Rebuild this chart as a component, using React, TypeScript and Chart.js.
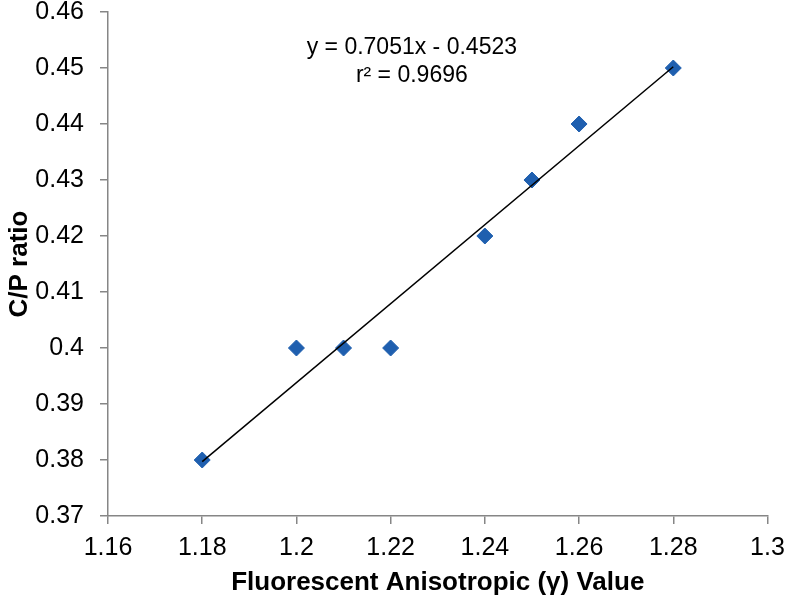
import React, { useEffect, useRef } from "react";
import { Chart, registerables } from "chart.js";

Chart.register(...registerables);

// Data
const anisotropyValues = [1.18, 1.2, 1.21, 1.22, 1.24, 1.25, 1.26, 1.28];
const cpRatios = [0.38, 0.4, 0.4, 0.4, 0.42, 0.43, 0.44, 0.45];

// Linear trend line (from the displayed equation)
const slope = 0.7051;
const intercept = -0.4523;
const trendXRange = [1.18, 1.28];
const equationLines = ["y = 0.7051x - 0.4523", "r² = 0.9696"];
const equationAnchor = { x: 1.2245, y1: 0.4537, y2: 0.4486 };

// Axis settings
const xTicks = [1.16, 1.18, 1.2, 1.22, 1.24, 1.26, 1.28, 1.3];
const yTicks = [0.37, 0.38, 0.39, 0.4, 0.41, 0.42, 0.43, 0.44, 0.45, 0.46];
const xTitle = "Fluorescent Anisotropic (γ) Value";
const yTitle = "C/P ratio";

const FONT = "'Liberation Sans', Arial, sans-serif";
const AXIS_GREY = "#868686";
const MARKER_BLUE = "#1F5FAF";

export default function App() {
  const canvasRef = useRef<HTMLCanvasElement | null>(null);

  useEffect(() => {
    const canvas = canvasRef.current;
    if (!canvas) return;

    const trendData = trendXRange.map((x) => ({ x, y: slope * x + intercept }));
    const pointData = anisotropyValues.map((x, i) => ({ x, y: cpRatios[i] }));

    const equationPlugin = {
      id: "equationText",
      afterDatasetsDraw(chart: any) {
        const { ctx, scales } = chart;
        const xs = scales.x;
        const ys = scales.y;
        ctx.save();
        ctx.font = `23px ${FONT}`;
        ctx.fillStyle = "#000";
        ctx.textAlign = "center";
        ctx.textBaseline = "middle";
        const px = xs.getPixelForValue(equationAnchor.x);
        ctx.fillText(equationLines[0], px, ys.getPixelForValue(equationAnchor.y1));
        ctx.fillText(equationLines[1], px, ys.getPixelForValue(equationAnchor.y2));
        ctx.restore();
      },
    };

    const chart = new Chart(canvas, {
      type: "scatter",
      data: {
        datasets: [
          {
            type: "line",
            label: "Trend",
            data: trendData,
            borderColor: "#000",
            borderWidth: 1.5,
            pointRadius: 0,
            fill: false,
            tension: 0,
          } as any,
          {
            label: "C/P ratio",
            data: pointData,
            pointStyle: "rectRot",
            pointRadius: 8,
            pointBackgroundColor: MARKER_BLUE,
            pointBorderColor: MARKER_BLUE,
            pointBorderWidth: 1,
            showLine: false,
          },
        ],
      },
      options: {
        animation: false,
        responsive: false,
        maintainAspectRatio: false,
        layout: { padding: { top: 12, right: 19.5, left: 0, bottom: 0 } },
        plugins: {
          legend: { display: false },
          tooltip: { enabled: false },
        },
        scales: {
          x: {
            type: "linear",
            min: 1.16,
            max: 1.3,
            afterBuildTicks: (scale: any) => {
              scale.ticks = xTicks.map((v) => ({ value: v }));
            },
            afterFit: (scale: any) => {
              scale.height = 85;
              scale.paddingLeft = 0;
              scale.paddingRight = 0;
            },
            ticks: {
              color: "#000",
              font: { family: FONT, size: 25, lineHeight: 1 },
              padding: 12,
              maxRotation: 0,
              autoSkip: false,
              callback: (v: any) => String(Number(Number(v).toFixed(2))),
            },
            grid: {
              drawOnChartArea: false,
              drawTicks: true,
              tickLength: 8,
              color: AXIS_GREY,
              lineWidth: 1.5,
            },
            border: { display: true, color: AXIS_GREY, width: 1.5 },
            title: {
              display: true,
              text: xTitle,
              color: "#000",
              font: { family: FONT, size: 26, weight: "bold" },
              padding: { top: 0, bottom: 2.4 },
            },
          },
          y: {
            type: "linear",
            min: 0.37,
            max: 0.46,
            afterBuildTicks: (scale: any) => {
              scale.ticks = yTicks.map((v) => ({ value: v }));
            },
            afterFit: (scale: any) => {
              scale.width = 108;
              scale.paddingTop = 0;
              scale.paddingBottom = 0;
            },
            ticks: {
              color: "#000",
              font: { family: FONT, size: 25, lineHeight: 1 },
              padding: 16,
              autoSkip: false,
              callback: (v: any) => String(Number(Number(v).toFixed(2))),
            },
            grid: {
              drawOnChartArea: false,
              drawTicks: true,
              tickLength: 8,
              color: AXIS_GREY,
              lineWidth: 1.5,
            },
            border: { display: true, color: AXIS_GREY, width: 1.5 },
            title: {
              display: true,
              text: yTitle,
              color: "#000",
              font: { family: FONT, size: 26, weight: "bold" },
              padding: { top: 4.4, bottom: 0 },
            },
          },
        },
      },
      plugins: [equationPlugin],
    });

    return () => chart.destroy();
  }, []);

  return (
    <div style={{ position: "fixed", left: 0, top: 0, width: 787, height: 601, background: "#fff" }}>
      <canvas ref={canvasRef} width={787} height={601} style={{ display: "block" }} />
    </div>
  );
}
